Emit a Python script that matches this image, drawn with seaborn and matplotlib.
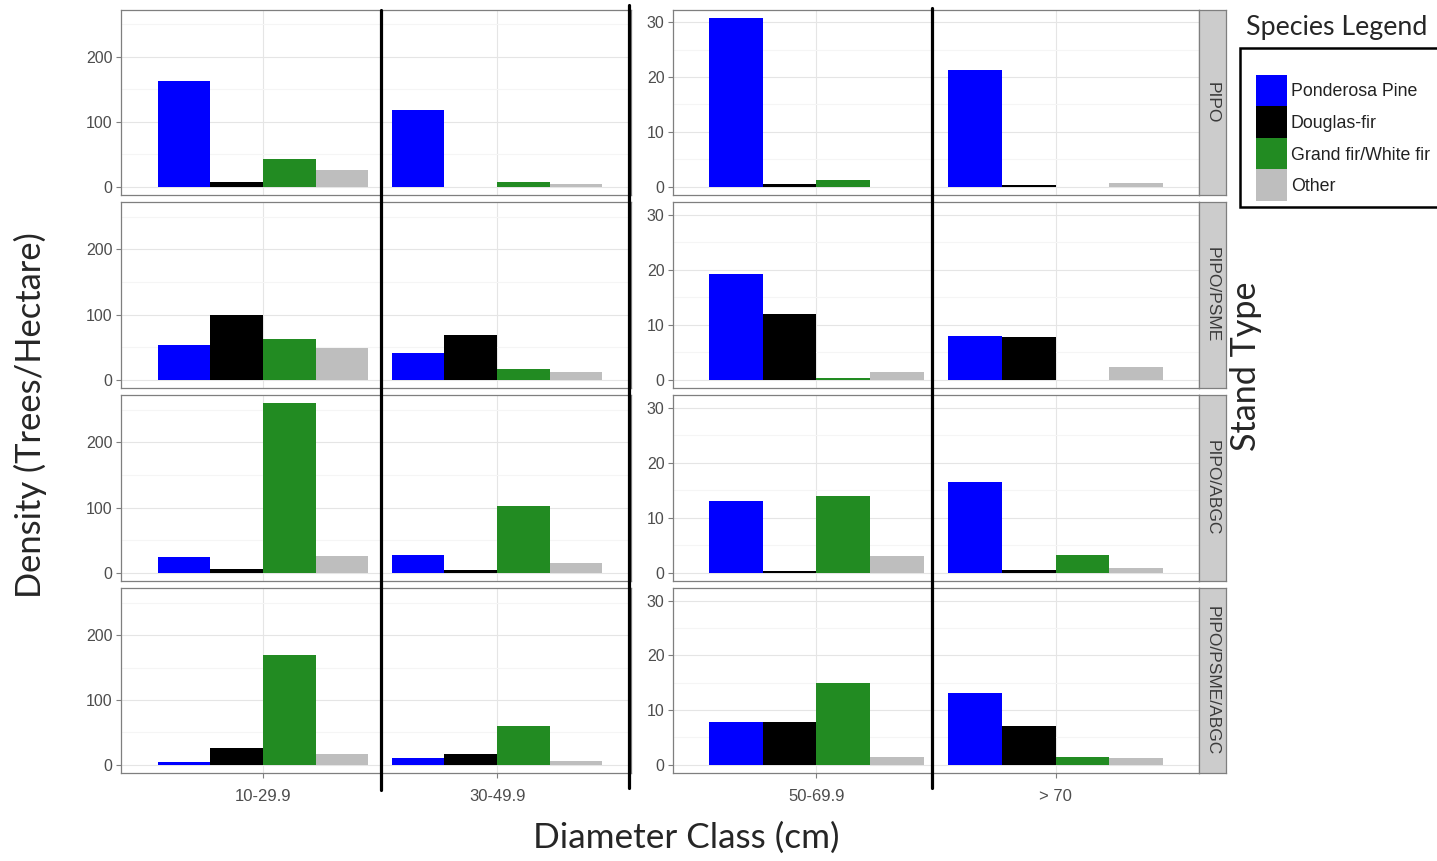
import matplotlib
matplotlib.use("Agg")
import matplotlib.pyplot as plt
import seaborn as sns
import pandas as pd
from matplotlib.lines import Line2D
from matplotlib.patches import Rectangle

sns.set_style("white")
plt.rcParams["font.family"] = ["Liberation Sans", "DejaVu Sans"]

species = ["Ponderosa Pine", "Douglas-fir", "Grand fir/White fir", "Other"]
colors = ["#0000FF", "#000000", "#228B22", "#BEBEBE"]
stand_types = ["PIPO", "PIPO/PSME", "PIPO/ABGC", "PIPO/PSME/ABGC"]
small_classes = ["10-29.9", "30-49.9"]
large_classes = ["50-69.9", "> 70"]
diameter_classes = small_classes + large_classes

# density (trees/ha) per diameter class, species order as above
pipo = [[163, 7, 42, 25], [118, 0, 7, 4], [30.8, 0.5, 1.15, 0], [21.2, 0.35, 0, 0.65]]
pipo_psme = [[53, 100, 63, 49], [41, 69, 16, 11], [19.3, 11.9, 0.35, 1.3], [8.0, 7.8, 0, 2.2]]
pipo_abgc = [[23.6, 6, 260, 26], [27, 4, 103, 14], [13.1, 0.2, 13.9, 3.0], [16.5, 0.5, 3.2, 0.9]]
pipo_psme_abgc = [[4.6, 26, 169, 16], [10, 16, 60, 5], [7.85, 7.85, 14.9, 1.3], [13.05, 7.1, 1.3, 1.15]]

rows = []
for stand, table in zip(stand_types, [pipo, pipo_psme, pipo_abgc, pipo_psme_abgc]):
    for dc, vals in zip(diameter_classes, table):
        for sp, v in zip(species, vals):
            rows.append({"stand": stand, "diameter": dc, "species": sp, "density": v})
df = pd.DataFrame(rows)

W, H = 1437, 861
fig = plt.figure(figsize=(W / 100, H / 100), dpi=100)


def box(x0, y0, x1, y1):
    return [x0 / W, 1 - y1 / H, (x1 - x0) / W, (y1 - y0) / H]


tops = [9.5, 202, 395, 588]
bottoms = [195, 388, 581, 773]
grey_txt = "#4D4D4D"
border = "#7F7F7F"


def style_axes(ax, xlim, ylim, major, minor, show_x):
    ax.set_xlim(*xlim)
    ax.set_ylim(*ylim)
    ax.set_yticks(major)
    ax.set_yticks(minor, minor=True)
    ax.grid(True, which="major", color="#E5E5E5", lw=0.8)
    ax.grid(True, which="minor", axis="y", color="#F5F5F5", lw=0.8)
    ax.set_axisbelow(True)
    for s in ax.spines.values():
        s.set_color(border)
        s.set_linewidth(0.9)
    ax.tick_params(axis="y", which="major", length=3.5, color=border, pad=2.5,
                   labelsize=11.5, labelcolor=grey_txt, left=True)
    ax.tick_params(axis="y", which="minor", length=0)
    ax.tick_params(axis="x", length=3.5 if show_x else 0, color=border, pad=8,
                   labelsize=12, labelcolor=grey_txt, bottom=show_x,
                   labelbottom=show_x)
    ax.set_xlabel("")
    ax.set_ylabel("")


for i, stand in enumerate(stand_types):
    sub = df[df["stand"] == stand]
    last = i == len(stand_types) - 1

    axl = fig.add_axes(box(121, tops[i], 631, bottoms[i]))
    sns.barplot(data=sub[sub["diameter"].isin(small_classes)], x="diameter", y="density",
                hue="species", order=small_classes, hue_order=species, palette=colors,
                width=0.9, saturation=1, errorbar=None, linewidth=0, legend=False, ax=axl)
    style_axes(axl, (-0.607, 1.572), (-13, 273), [0, 100, 200], [50, 150, 250], last)

    axr = fig.add_axes(box(673, tops[i], 1199, bottoms[i]))
    sns.barplot(data=sub[sub["diameter"].isin(large_classes)], x="diameter", y="density",
                hue="species", order=large_classes, hue_order=species, palette=colors,
                width=0.9, saturation=1, errorbar=None, linewidth=0, legend=False, ax=axr)
    style_axes(axr, (-0.6, 1.6), (-1.54, 32.34), [0, 10, 20, 30], [5, 15, 25], last)

    # facet strip
    sax = fig.add_axes(box(1199, tops[i], 1226, bottoms[i]))
    sax.set_facecolor("#CCCCCC")
    sax.set_xticks([])
    sax.set_yticks([])
    for s in sax.spines.values():
        s.set_color(border)
        s.set_linewidth(0.9)
    sax.text(0.5, 0.5, stand, rotation=-90, ha="center", va="center",
             fontsize=12.5, color="#3A3A3A", transform=sax.transAxes)

# thick separators
for x, y0, y1 in [(381, 10, 790), (629, 5, 788), (932, 8, 788)]:
    fig.add_artist(Line2D([x / W, x / W], [1 - y0 / H, 1 - y1 / H], color="black", lw=2.3))

# axis titles
big = ["Lato", "DejaVu Sans"]
fig.text(30 / W, 1 - 415 / H, "Density (Trees/Hectare)", rotation=90, ha="center",
         va="center", fontsize=24.8, family=big)
fig.text(686 / W, 1 - 838 / H, "Diameter Class (cm)", ha="center", va="center",
         fontsize=25.3, family=big)
fig.text(1246 / W, 1 - 366 / H, "Stand Type", rotation=90, ha="center", va="center",
         fontsize=24.6, family=big)

# legend
fig.text(1337 / W, 1 - 28 / H, "Species Legend", ha="center", va="center",
         fontsize=19.3, family=big)
fig.add_artist(Rectangle((1240 / W, 1 - 207 / H), 210 / W, 159 / H, transform=fig.transFigure,
                         facecolor="white", edgecolor="black", lw=1.8))
for k, (sp, c) in enumerate(zip(species, colors)):
    y0 = 75 + k * 31.5
    fig.add_artist(Rectangle((1256 / W, 1 - (y0 + 31.5) / H), 31 / W, 31.5 / H,
                             transform=fig.transFigure, facecolor=c, edgecolor="none"))
    fig.text(1291 / W, 1 - (y0 + 17) / H, sp, ha="left", va="center", fontsize=12.8,
             color="#222222")

fig.savefig("out.png", dpi=100)
